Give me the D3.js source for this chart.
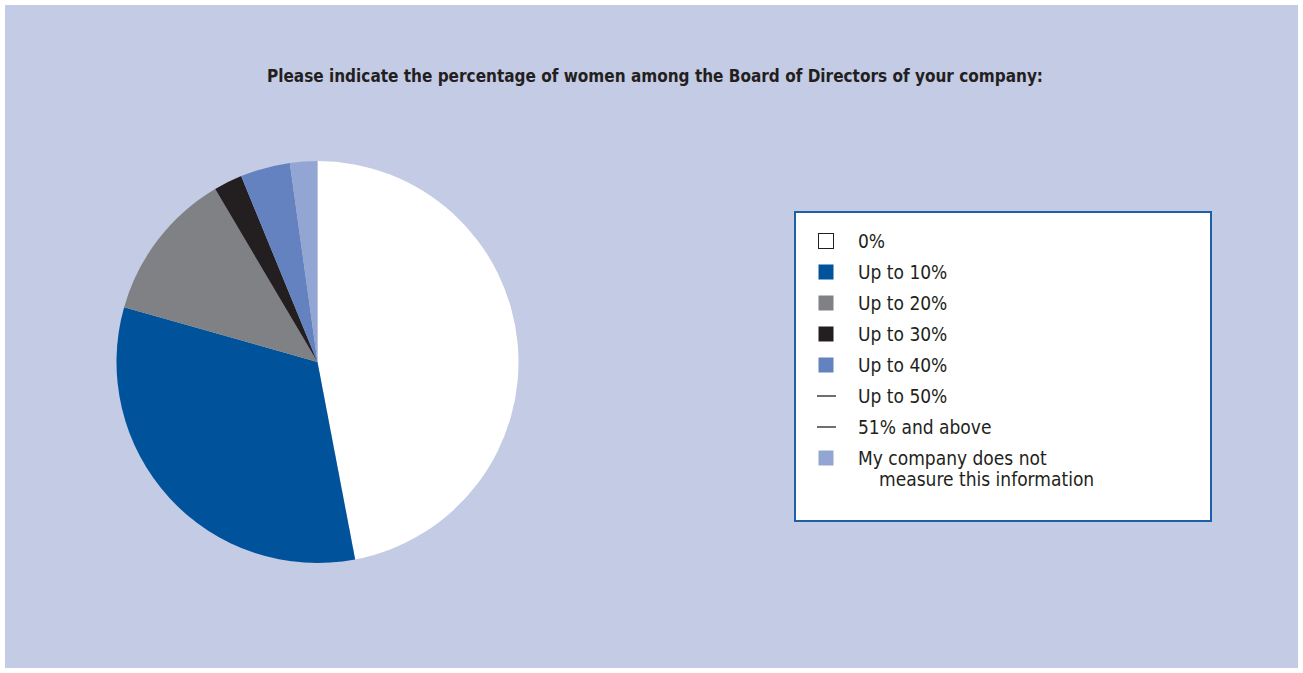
<!DOCTYPE html>
<html>
<head>
<meta charset="utf-8">
<script src="https://cdn.jsdelivr.net/npm/d3@7"></script>
<style>
  html, body { margin: 0; padding: 0; background: #ffffff; }
  svg { display: block; }
</style>
</head>
<body>
<svg id="chart" width="1303" height="673"></svg>
<script>
// Share of respondents per answer (percent)
const categories = ["0%", "Up to 10%", "Up to 20%", "Up to 30%", "Up to 40%", "Up to 50%", "51% and above", "My company does not measure this information"];
const values = [47.0, 32.4, 12.1, 2.3, 4.0, 0, 0, 2.2];
const colors = ["#ffffff", "#00529b", "#808184", "#231f20", "#6482bf", "#231f20", "#231f20", "#92a5d3"];
const legendLabels = [["0%"], ["Up to 10%"], ["Up to 20%"], ["Up to 30%"], ["Up to 40%"], ["Up to 50%"], ["51% and above"], ["My company does not", "measure this information"]];
const title = "Please indicate the percentage of women among the Board of Directors of your company:";

const svg = d3.select("#chart");
const font = "'Liberation Sans Narrow', 'DejaVu Sans Condensed', 'Roboto', sans-serif";

// panel background
svg.append("rect")
  .attr("x", 5).attr("y", 5)
  .attr("width", 1293).attr("height", 663)
  .attr("fill", "#c3cbe5");

// title
svg.append("text")
  .attr("x", 655).attr("y", 82)
  .attr("text-anchor", "middle")
  .attr("font-family", font)
  .attr("font-weight", "bold")
  .attr("font-size", 18)
  .attr("fill", "#231f20")
  .attr("textLength", 776)
  .attr("lengthAdjust", "spacingAndGlyphs")
  .text(title);

// pie
const data = categories.map((c, i) => ({ category: c, value: values[i], color: colors[i] }));
const pie = d3.pie().sort(null).value(d => d.value);
const arc = d3.arc().innerRadius(0).outerRadius(201);

svg.append("g")
  .attr("transform", "translate(317.5,362)")
  .selectAll("path")
  .data(pie(data).filter(d => d.data.value > 0))
  .join("path")
  .attr("d", arc)
  .attr("fill", d => d.data.color);

// legend box
svg.append("rect")
  .attr("x", 795).attr("y", 212)
  .attr("width", 416).attr("height", 309)
  .attr("fill", "#ffffff")
  .attr("stroke", "#1d5fa8")
  .attr("stroke-width", 2);

const rowY = d3.scalePoint().domain(d3.range(categories.length)).range([241, 458]);

const items = svg.append("g")
  .selectAll("g")
  .data(data)
  .join("g")
  .attr("transform", (d, i) => `translate(0,${rowY(i)})`);

items.each(function (d, i) {
  const g = d3.select(this);
  if (d.value > 0) {
    g.append("rect")
      .attr("x", 818.5).attr("y", -7.5)
      .attr("width", 15).attr("height", 15)
      .attr("fill", d.color)
      .attr("stroke", d.color === "#ffffff" ? "#231f20" : "none")
      .attr("stroke-width", 1);
  } else {
    g.append("line")
      .attr("x1", 817).attr("x2", 836)
      .attr("y1", 0).attr("y2", 0)
      .attr("stroke", "#231f20")
      .attr("stroke-width", 1.3);
  }
  const t = g.append("text")
    .attr("y", 7)
    .attr("font-family", font)
    .attr("font-size", 19)
    .attr("fill", "#231f20");
  legendLabels[i].forEach((line, k) => {
    t.append("tspan")
      .attr("x", k === 0 ? 858 : 879)
      .attr("dy", k === 0 ? 0 : 20.5)
      .text(line);
  });
});
</script>
</body>
</html>
